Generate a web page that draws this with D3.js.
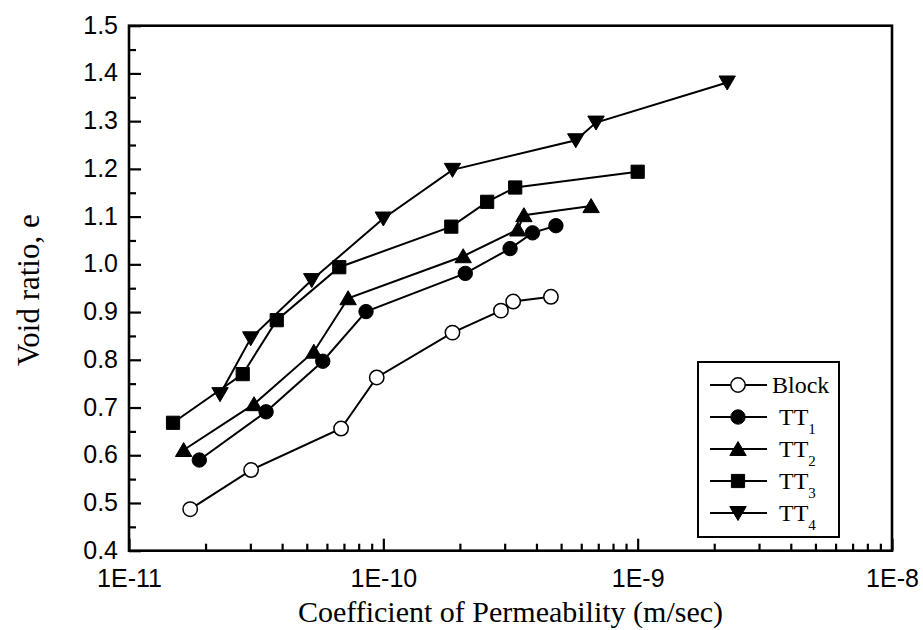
<!DOCTYPE html>
<html>
<head>
<meta charset="utf-8">
<script src="https://cdn.jsdelivr.net/npm/d3@7"></script>
<style>
  html, body { margin: 0; padding: 0; background: #fff; }
  svg { display: block; }
</style>
</head>
<body>
<svg id="chart" width="923" height="630"></svg>
<script>
// ---- data ----
const seriesNames = ["Block", "TT1", "TT2", "TT3", "TT4"];
const blockK = [1.74e-11, 3.02e-11, 6.82e-11, 9.42e-11, 1.87e-10, 2.90e-10, 3.24e-10, 4.56e-10];
const blockE = [0.487, 0.569, 0.656, 0.763, 0.857, 0.903, 0.922, 0.932];
const tt1K = [1.89e-11, 3.46e-11, 5.78e-11, 8.55e-11, 2.10e-10, 3.15e-10, 3.86e-10, 4.77e-10];
const tt1E = [0.590, 0.691, 0.797, 0.901, 0.981, 1.033, 1.066, 1.081];
const tt2K = [1.64e-11, 3.10e-11, 5.33e-11, 7.27e-11, 2.06e-10, 3.38e-10, 3.57e-10, 6.56e-10];
const tt2E = [0.611, 0.707, 0.817, 0.929, 1.017, 1.073, 1.103, 1.122];
const tt3K = [1.49e-11, 2.80e-11, 3.81e-11, 6.71e-11, 1.85e-10, 2.56e-10, 3.30e-10, 1.00e-9];
const tt3E = [0.668, 0.770, 0.883, 0.994, 1.079, 1.131, 1.161, 1.194];
const tt4K = [2.28e-11, 3.01e-11, 5.23e-11, 1.00e-10, 1.87e-10, 5.71e-10, 6.86e-10, 2.25e-9];
const tt4E = [0.728, 0.845, 0.967, 1.096, 1.198, 1.260, 1.297, 1.381];
const xTickValues = [1e-11, 1e-10, 1e-9, 1e-8];
const xTickLabels = ["1E-11", "1E-10", "1E-9", "1E-8"];
const yTickValues = [0.4, 0.5, 0.6, 0.7, 0.8, 0.9, 1.0, 1.1, 1.2, 1.3, 1.4, 1.5];
const xTitle = "Coefficient of Permeability (m/sec)";
const yTitle = "Void ratio, e";

// ---- layout ----
const L = 129, R = 892, T = 25.7, B = 550.7;
const svg = d3.select("#chart");
const x = d3.scaleLog().domain([1e-11, 1e-8]).range([L, R]);
const y = d3.scaleLinear().domain([0.4, 1.5]).range([B, T]);
const sansFont = "'Liberation Sans', Arial, sans-serif";
const serifFont = "'Liberation Serif', 'Times New Roman', serif";

const series = [
  {name: "Block", sub: null, k: blockK, e: blockE, shape: "circle", fill: "#fff"},
  {name: "TT", sub: "1", k: tt1K, e: tt1E, shape: "circle", fill: "#000"},
  {name: "TT", sub: "2", k: tt2K, e: tt2E, shape: "up", fill: "#000"},
  {name: "TT", sub: "3", k: tt3K, e: tt3E, shape: "square", fill: "#000"},
  {name: "TT", sub: "4", k: tt4K, e: tt4E, shape: "down", fill: "#000"}
];

function markerPath(shape) {
  if (shape === "circle") return d3.symbol(d3.symbolCircle, Math.PI * 7.2 * 7.2)();
  if (shape === "square") return "M-6.6,-6.6H6.6V6.6H-6.6Z";
  if (shape === "up") return "M0,-7.5L8.2,6.5L-8.2,6.5Z";
  if (shape === "down") return "M0,7.5L8.2,-6.5L-8.2,-6.5Z";
}

// ---- axes ----
const yMinor = d3.range(0, 23).map(i => 0.4 + i * 0.05).filter(v => Math.abs(Math.round(v * 10) / 10 - v) > 1e-6);
svg.append("g").attr("transform", `translate(${L},0)`)
  .call(d3.axisLeft(y).tickValues(yMinor).tickSize(-7).tickFormat(""))
  .call(g => g.select(".domain").remove())
  .call(g => g.selectAll("line").attr("stroke", "#000").attr("stroke-width", 2.2));
svg.append("g").attr("transform", `translate(${L},0)`)
  .call(d3.axisLeft(y).tickValues(yTickValues).tickSize(-12).tickPadding(11).tickFormat(d3.format(".1f")))
  .call(g => g.select(".domain").remove())
  .call(g => g.selectAll("line").attr("stroke", "#000").attr("stroke-width", 2.2))
  .call(g => g.selectAll("text").attr("font-family", sansFont).attr("font-size", 25)
    .attr("dy", "0.3em").attr("fill", "#000"));

const xMinor = [];
[1e-11, 1e-10, 1e-9].forEach(d => { for (let m = 2; m <= 9; m++) xMinor.push(d * m); });
svg.append("g").attr("transform", `translate(0,${B})`)
  .call(d3.axisBottom(x).tickValues(xMinor).tickSize(-7).tickFormat(""))
  .call(g => g.select(".domain").remove())
  .call(g => g.selectAll("line").attr("stroke", "#000").attr("stroke-width", 2.2));
svg.append("g").attr("transform", `translate(0,${B})`)
  .call(d3.axisBottom(x).tickValues(xTickValues).tickSize(-12).tickPadding(18.5)
    .tickFormat((d, i) => xTickLabels[i]))
  .call(g => g.select(".domain").remove())
  .call(g => g.selectAll("line").attr("stroke", "#000").attr("stroke-width", 2.2))
  .call(g => g.selectAll("text").attr("font-family", sansFont).attr("font-size", 25).attr("fill", "#000"));

// frame
svg.append("rect").attr("x", L).attr("y", T).attr("width", R - L).attr("height", B - T)
  .attr("fill", "none").attr("stroke", "#000").attr("stroke-width", 2.6);

// titles
svg.append("text").attr("x", (L + R) / 2).attr("y", 622).attr("text-anchor", "middle")
  .attr("font-family", serifFont).attr("font-size", 30).text(xTitle);
svg.append("text").attr("transform", `translate(39,${(T + B) / 2 + 2}) rotate(-90)`)
  .attr("text-anchor", "middle").attr("font-family", serifFont).attr("font-size", 31).text(yTitle);

// ---- series ----
const line = d3.line().x(d => x(d[0])).y(d => y(d[1]));
series.forEach(s => {
  const pts = s.k.map((k, i) => [k, s.e[i]]);
  svg.append("path").datum(pts).attr("d", line).attr("fill", "none")
    .attr("stroke", "#000").attr("stroke-width", 2);
});
series.forEach(s => {
  const pts = s.k.map((k, i) => [k, s.e[i]]);
  svg.append("g").selectAll("path").data(pts).join("path")
    .attr("transform", d => `translate(${x(d[0])},${y(d[1])})`)
    .attr("d", markerPath(s.shape))
    .attr("fill", s.fill).attr("stroke", "#000").attr("stroke-width", s.fill === "#fff" ? 1.5 : 1);
});

// ---- legend ----
const lg = svg.append("g");
lg.append("rect").attr("x", 698).attr("y", 362).attr("width", 141).attr("height", 175)
  .attr("fill", "#fff").attr("stroke", "#000").attr("stroke-width", 2);
series.forEach((s, i) => {
  const ly = 385 + i * 32;
  lg.append("line").attr("x1", 710).attr("x2", 767).attr("y1", ly).attr("y2", ly)
    .attr("stroke", "#000").attr("stroke-width", 2);
  lg.append("path").attr("transform", `translate(738,${ly})`).attr("d", markerPath(s.shape))
    .attr("fill", s.fill).attr("stroke", "#000").attr("stroke-width", s.fill === "#fff" ? 1.5 : 1);
  const t = lg.append("text").attr("x", s.sub ? 779 : 772).attr("y", ly + 8)
    .attr("font-family", serifFont).attr("font-size", 24).text(s.name);
  if (s.sub) {
    t.append("tspan").attr("font-size", 15).attr("dy", 9).text(s.sub);
  }
});
</script>
</body>
</html>
